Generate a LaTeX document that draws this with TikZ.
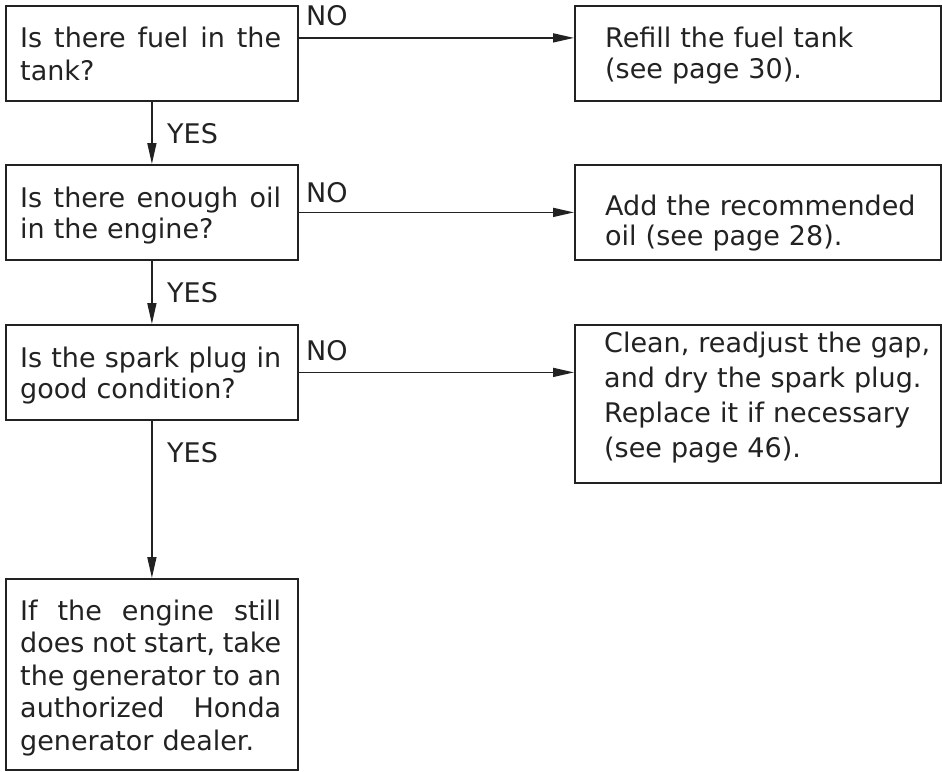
\documentclass[tikz,border=0pt]{standalone}
\usepackage{fontspec}
\setmainfont{DejaVu Sans}
\usetikzlibrary{arrows.meta}
\definecolor{ink}{HTML}{222222}
\newcommand{\jline}[1]{\leavevmode\hbox to 261pt{#1}}
\begin{document}
\begin{tikzpicture}[x=1pt,y=-1pt,
  box/.style={draw=ink, line width=1.8pt, rectangle, inner sep=0pt, anchor=north west},
  txt/.style={inner sep=0pt, anchor=base west, text=ink, align=left},
  arr/.style={draw=ink, line width=1.6pt, -{Triangle[length=21pt,width=9pt]}},
  lbl/.style={inner sep=0pt, anchor=base west, text=ink, font=\fontsize{27}{32}\selectfont}]
\useasboundingbox (0,0) rectangle (942,771);
% left column boxes
\node[box, minimum width=292pt, minimum height=95pt] (q1) at (5,5) {};
\node[box, minimum width=292pt, minimum height=95pt] (q2) at (5,164) {};
\node[box, minimum width=292pt, minimum height=95pt] (q3) at (5,324) {};
\node[box, minimum width=292pt, minimum height=191pt] (q4) at (5,578) {};
% right column boxes
\node[box, minimum width=366pt, minimum height=95pt] (r1) at (574,5) {};
\node[box, minimum width=366pt, minimum height=95pt] (r2) at (574,164) {};
\node[box, minimum width=366pt, minimum height=158pt] (r3) at (574,324) {};
% texts
\node[txt, font=\fontsize{27}{33}\selectfont, text width=261pt] (t1) at (20,47)
  {\jline{Is\hfill there\hfill fuel\hfill in\hfill the}\\tank?};
\node[txt, font=\fontsize{27}{31.5}\selectfont, text width=261pt] (t2) at (20,207)
  {\jline{Is\hfill there\hfill enough\hfill oil}\\in the engine?};
\node[txt, font=\fontsize{27}{31}\selectfont, text width=261pt] (t3) at (20,367)
  {\jline{Is\hfill the\hfill spark\hfill plug\hfill in}\\good condition?};
\node[txt, font=\fontsize{27}{32.5}\selectfont, text width=261pt] (t4) at (20,620)
  {\jline{If\hfill the\hfill engine\hfill still}\\
   \jline{does\hfill not\hfill start,\hfill take}\\
   \jline{the\hfill generator\hfill to\hfill an}\\
   \jline{authorized\hfill Honda}\\
   generator dealer.};
\node[txt, font=\fontsize{27}{31}\selectfont, text width=330pt] (u1) at (605,47)
  {Refill the fuel tank\\(see page 30).};
\node[txt, font=\fontsize{27}{30}\selectfont, text width=330pt] (u2) at (605,215)
  {Add the recommended\\oil (see page 28).};
\node[txt, font=\fontsize{27}{35}\selectfont, text width=330pt] (u3) at (604,352)
  {Clean, readjust the gap,\\and dry the spark plug.\\Replace it if necessary\\(see page 46).};
% connectors
\draw[arr] ([yshift=15.5pt]q1.east) -- ([yshift=15.5pt]r1.west);
\draw[arr] (q2.east) -- (q2.east -| r2.west);
\draw[arr] (q3.east) -- (q3.east -| r3.west);
\draw[arr] (q1.south) -- (q2.north);
\draw[arr] (q2.south) -- (q3.north);
\draw[arr] (q3.south) -- (q4.north);
% labels
\node[lbl] (no1) at (306,25) {NO};
\node[lbl] (no2) at (306,202) {NO};
\node[lbl] (no3) at (306,360) {NO};
\node[lbl] (yes1) at (167,143) {YES};
\node[lbl] (yes2) at (167,302) {YES};
\node[lbl] (yes3) at (167,462) {YES};
\end{tikzpicture}
\end{document}
